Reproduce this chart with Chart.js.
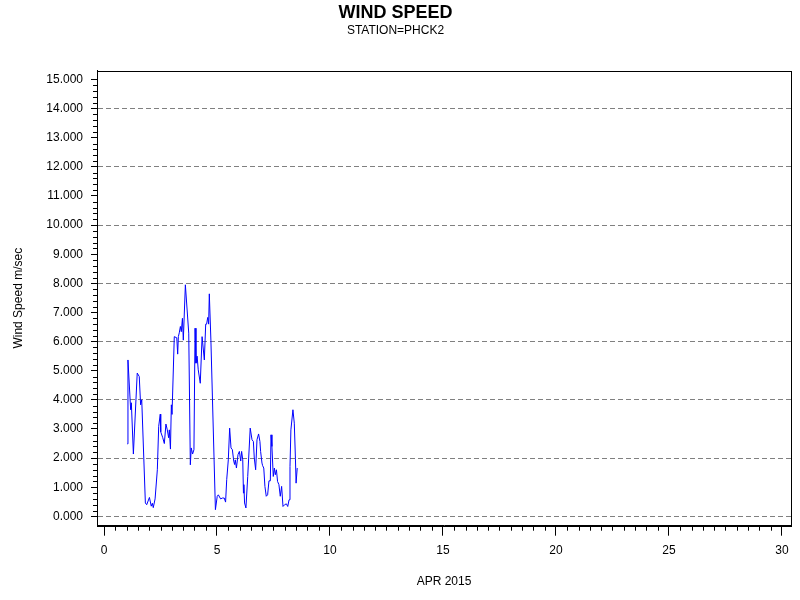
<!DOCTYPE html>
<html>
<head>
<meta charset="utf-8">
<script src="https://cdn.jsdelivr.net/npm/chart.js@4/dist/chart.umd.min.js"></script>
<style>
  html, body { margin: 0; padding: 0; background: #fff; }
  #wrap { width: 800px; height: 600px; }
</style>
</head>
<body>
<div id="wrap"><canvas id="myChart" width="800" height="600"></canvas></div>
<script>
// day of month (APR 2015) and wind speed in m/sec
const days = [
  1.03, 1.06, 1.18, 1.21, 1.30, 1.47, 1.56, 1.59, 1.62, 1.67,
  1.83, 1.89, 2.01, 2.09, 2.14, 2.18, 2.26, 2.36, 2.42, 2.49,
  2.51, 2.60, 2.67, 2.74, 2.80, 2.86, 2.89, 2.94, 2.98, 3.01,
  3.11, 3.22, 3.26, 3.29, 3.33, 3.38, 3.42, 3.47, 3.51, 3.60,
  3.75, 3.82, 3.86, 3.92, 3.98, 4.03, 4.07, 4.12, 4.17, 4.26,
  4.34, 4.44, 4.50, 4.54, 4.59, 4.63, 4.66, 4.73, 4.93, 5.01,
  5.06, 5.16, 5.24, 5.32, 5.38, 5.43, 5.50, 5.56, 5.62, 5.68,
  5.74, 5.78, 5.81, 5.86, 5.93, 5.99, 6.05, 6.09, 6.14, 6.17,
  6.19, 6.22, 6.28, 6.36, 6.47, 6.55, 6.61, 6.65, 6.71, 6.77,
  6.84, 6.90, 6.93, 6.99, 7.02, 7.07, 7.12, 7.18, 7.24, 7.30,
  7.36, 7.39, 7.43, 7.49, 7.54, 7.58, 7.63, 7.68, 7.74, 7.80,
  7.86, 7.92, 7.99, 8.07, 8.13, 8.19, 8.23, 8.27, 8.36, 8.42,
  8.47, 8.50, 8.55
];
const speeds = [
  2.49, 5.37, 3.66, 3.90, 2.14, 4.92, 4.80, 4.80, 3.83, 4.00,
  0.46, 0.40, 0.65, 0.35, 0.45, 0.30, 0.60, 1.60, 3.09, 3.51,
  2.90, 2.70, 2.50, 3.17, 2.97, 2.70, 2.97, 2.31, 3.83, 3.50,
  6.17, 6.13, 5.57, 6.17, 6.30, 6.52, 6.34, 6.80, 6.05, 7.95,
  6.29, 1.77, 2.35, 2.14, 2.29, 6.46, 5.26, 5.50, 5.03, 4.57,
  6.17, 5.37, 6.60, 6.60, 6.83, 6.60, 7.64, 6.05, 0.23, 0.69,
  0.74, 0.60, 0.63, 0.63, 0.49, 1.26, 1.94, 3.03, 2.35, 2.29,
  1.90, 1.78, 1.94, 1.66, 2.12, 2.23, 1.90, 2.23, 1.94, 0.80,
  1.09, 0.46, 0.29, 1.37, 3.03, 2.63, 2.57, 2.00, 1.60, 2.63,
  2.83, 2.57, 2.23, 1.83, 1.74, 1.66, 1.03, 0.69, 0.74, 1.22,
  1.22, 2.80, 2.40, 1.37, 1.66, 1.43, 1.60, 1.20, 1.09, 0.69,
  1.03, 0.34, 0.40, 0.43, 0.34, 0.57, 1.71, 2.97, 3.66, 3.20,
  2.00, 1.14, 1.66
];
const xTickValues = [0, 5, 10, 15, 20, 25, 30];
const yTickValues = [0, 1, 2, 3, 4, 5, 6, 7, 8, 9, 10, 11, 12, 13, 14, 15];

const fontFamily = "'Liberation Sans', Arial, sans-serif";

// frame round the plot and the short minor ticks
const framePlugin = {
  id: "frame",
  afterDraw(chart) {
    const ctx = chart.ctx;
    const area = chart.chartArea;
    const xs = chart.scales.x;
    const ys = chart.scales.y;
    ctx.save();
    ctx.strokeStyle = "#000";
    ctx.lineWidth = 1;
    ctx.strokeRect(Math.round(area.left) + 0.5, Math.round(area.top) + 0.5,
      Math.round(area.right - area.left), Math.round(area.bottom - area.top));
    ctx.beginPath();
    for (let i = 0; i <= 75; i++) {
      if (i % 5 === 0) continue;
      const py = Math.round(ys.getPixelForValue(i / 5)) + 0.5;
      ctx.moveTo(area.left - 4, py);
      ctx.lineTo(area.left, py);
    }
    for (let i = 0; i <= 60; i++) {
      if (i % 10 === 0) continue;
      const px = Math.round(xs.getPixelForValue(i / 2)) + 0.5;
      ctx.moveTo(px, area.bottom);
      ctx.lineTo(px, area.bottom + 5);
    }
    ctx.stroke();
    ctx.restore();
  }
};

const ctx = document.getElementById("myChart");
const myChart = new Chart(ctx, {
  type: "line",
  data: {
    datasets: [{
      data: days.map((d, i) => ({ x: d, y: speeds[i] })),
      borderColor: "#0000ff",
      borderWidth: 1,
      pointRadius: 0,
      tension: 0,
      fill: false
    }]
  },
  options: {
    responsive: false,
    animation: false,
    layout: { padding: { left: 0, right: 9, top: 0, bottom: 0 } },
    plugins: {
      legend: { display: false },
      tooltip: { enabled: false },
      title: {
        display: true,
        text: "WIND SPEED",
        color: "#000",
        font: { family: fontFamily, size: 18, weight: "bold" },
        padding: { top: 2, bottom: 0 }
      },
      subtitle: {
        display: true,
        text: "STATION=PHCK2",
        color: "#000",
        font: { family: fontFamily, size: 12 },
        padding: { top: 0, bottom: 32.7 }
      }
    },
    scales: {
      x: {
        type: "linear",
        min: -0.31,
        max: 30.4,
        afterBuildTicks: (scale) => { scale.ticks = xTickValues.map(v => ({ value: v })); },
        afterFit: (scale) => { scale.height = 74.3; },
        ticks: {
          color: "#000",
          padding: 8,
          maxRotation: 0,
          font: { family: fontFamily, size: 12 }
        },
        grid: { drawOnChartArea: false, tickLength: 10, tickColor: "#000" },
        border: { display: true, color: "#000" },
        title: {
          display: true,
          text: "APR 2015",
          color: "#000",
          font: { family: fontFamily, size: 12 },
          padding: { top: 0, bottom: 11 }
        }
      },
      y: {
        type: "linear",
        min: -0.32,
        max: 15.3,
        afterBuildTicks: (scale) => { scale.ticks = yTickValues.map(v => ({ value: v })); },
        afterFit: (scale) => { scale.width = 97; },
        ticks: {
          color: "#000",
          padding: 8,
          font: { family: fontFamily, size: 12 },
          callback: (v) => Number(v).toFixed(3)
        },
        grid: {
          color: (c) => (c.tick && c.tick.value % 2 === 0) ? "#808080" : "rgba(0,0,0,0)",
          tickColor: "#000",
          tickLength: 6,
          lineWidth: 1
        },
        border: { display: true, color: "#000", dash: [5, 3] },
        title: {
          display: true,
          text: "Wind Speed m/sec",
          color: "#000",
          font: { family: fontFamily, size: 12 },
          padding: { top: 11, bottom: 0 }
        }
      }
    }
  },
  plugins: [framePlugin]
});
</script>
</body>
</html>
